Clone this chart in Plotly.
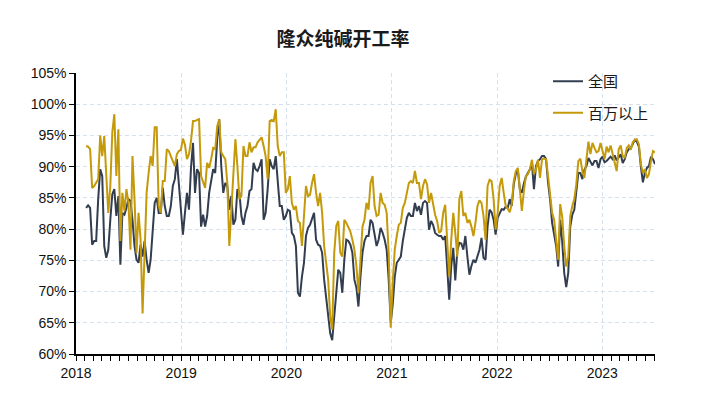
import pandas as pd
import plotly.graph_objects as go

title_text = "隆众纯碱开工率"
series_names = ["全国", "百万以上"]
start_date = "2018-02-05"

quanguo = [
    83.4, 83.8, 83.4, 77.5, 78.1, 78.1, 84.8, 89.6, 88.5, 77.3,
    75.4, 76.7, 81.5, 85.6, 86.4, 82.1, 85.3, 74.3, 82.6, 82.3,
    83.4, 84.8, 84.5, 81.5, 77.3, 75.1, 74.6, 77.5, 75.6, 78.1,
    75.1, 73.0, 75.1, 79.9, 84.2, 85.0, 82.6, 82.6, 86.6, 83.7,
    82.1, 82.1, 83.7, 86.9, 88.0, 91.2, 87.4, 82.6, 79.1, 82.6,
    85.8, 83.1, 89.8,
    93.8, 85.8, 89.6, 89.0, 80.4, 82.3, 80.4, 82.1, 85.8, 87.7,
    89.6, 89.0, 94.4, 97.6, 90.1, 85.8, 87.4, 86.9, 83.1, 85.3,
    80.7, 81.5, 86.4, 85.8, 82.1, 80.7, 82.6, 83.7, 86.1, 86.4,
    90.6, 89.6, 89.3, 90.1, 91.2, 81.5, 82.6, 86.4, 91.2, 90.1,
    89.6, 91.7, 88.0, 83.7,
    83.7, 81.5, 82.1, 83.1, 82.9, 79.4, 78.9, 77.3, 69.8, 69.2,
    72.4, 74.6, 78.9, 80.2, 80.7, 81.8, 82.6, 78.3, 77.5, 77.3,
    76.2, 71.9, 69.2, 66.0, 63.3, 62.2, 66.0, 70.8, 73.5, 73.0,
    69.8, 75.1, 78.3, 78.1, 77.5, 76.2, 71.9, 70.6, 67.6, 72.4,
    76.2, 78.1, 78.9, 78.9, 81.5, 81.0, 79.4, 77.3, 78.3, 80.2,
    79.4, 78.3, 76.7, 71.9, 65.0, 68.0, 72.4, 74.6, 75.1,
    75.6, 78.1, 80.2, 81.8, 82.6, 82.1, 82.1, 84.2, 82.9, 83.7,
    82.3, 84.2, 84.5, 84.2, 79.9, 81.3, 80.7, 79.4, 79.1, 78.9,
    78.9, 78.3, 78.9, 74.1, 68.7, 74.1, 77.0, 71.8, 76.5, 77.8,
    77.7, 76.7, 78.9, 75.6, 72.7, 74.1, 75.1, 74.6, 75.9, 76.7,
    78.6, 75.4, 75.1, 80.4, 83.1, 82.7, 81.5, 79.1, 81.8, 82.5,
    83.2, 83.1,
    83.6, 83.4, 84.8, 83.7, 87.2, 88.8, 89.5, 86.4, 85.8, 87.3,
    88.4, 89.0, 89.6, 90.5, 86.4, 90.1, 90.9, 91.2, 91.7, 91.7,
    91.2, 87.4, 84.8, 81.0, 79.4, 77.3, 74.0, 81.5, 78.0, 73.0,
    70.7, 73.0, 80.4, 82.3, 83.1, 85.8, 89.0, 89.0, 88.0, 89.5,
    90.1, 91.4, 90.7, 90.2, 90.9, 90.9, 89.8, 91.2, 91.6, 90.7,
    90.9, 91.2,
    91.6, 91.2, 91.8, 91.0, 91.6, 92.0, 90.6, 91.2, 92.3, 92.8,
    93.0, 93.8, 94.3, 94.0, 93.2, 90.0, 87.5, 89.0, 89.8, 90.1,
    91.6, 91.2, 90.4,
]

baiwan = [
    93.3, 93.2, 92.8, 86.6, 86.9, 87.4, 88.0, 95.0, 91.7, 94.9,
    89.6, 82.6, 86.9, 95.5, 98.4, 88.5, 96.0, 78.1, 85.8, 82.9,
    86.4, 84.2, 76.7, 91.7, 84.8, 76.2, 82.6, 78.4, 66.5, 77.3,
    85.8, 89.0, 91.7, 90.1, 96.3, 96.3, 83.7, 82.6, 87.7, 87.7,
    92.8, 92.5, 91.7, 91.2, 90.1, 92.0, 92.5, 92.7, 94.5, 93.5,
    91.2, 92.0, 94.1,
    97.3, 97.3, 97.5, 97.6, 88.5, 87.7, 86.6, 90.6, 89.8, 91.2,
    93.0, 92.8, 96.5, 97.6, 92.3, 91.7, 91.2, 87.4, 77.3, 83.1,
    89.0, 94.4, 90.1, 84.8, 85.3, 93.3, 91.7, 91.7, 93.9, 92.3,
    93.1, 93.1, 93.9, 94.4, 94.7, 93.3, 91.7, 88.0, 97.3, 97.5,
    97.3, 99.2, 93.3, 91.7,
    92.3, 92.3, 85.8, 86.4, 88.5, 84.2, 83.1, 83.7, 81.3, 81.0,
    77.3, 82.1, 86.9, 85.3, 85.5, 87.4, 88.8, 85.8, 83.7, 85.8,
    82.6, 77.3, 74.6, 71.9, 66.0, 63.9, 76.2, 80.5, 81.3, 76.2,
    75.6, 81.5, 81.0, 80.2, 79.6, 78.3, 76.7, 74.1, 69.8, 75.1,
    80.4, 81.5, 84.2, 83.1, 87.4, 88.5, 83.7, 82.1, 82.3, 85.8,
    84.2, 83.9, 82.6, 76.2, 64.2, 71.5, 76.7, 78.9, 80.7,
    81.0, 83.4, 84.2, 85.8, 87.4, 87.7, 87.4, 89.3, 87.4, 87.4,
    84.8, 86.9, 88.0, 87.2, 84.2, 85.8, 83.7, 82.3, 81.3, 79.4,
    79.7, 82.6, 83.9, 77.3, 72.4, 78.3, 82.6, 79.4, 75.6, 84.8,
    86.1, 82.1, 82.6, 81.0, 81.5, 80.4, 78.9, 81.0, 83.7, 84.6,
    84.2, 82.1, 78.3, 86.9, 87.9, 87.7, 84.8, 79.9, 82.6, 86.9,
    88.2, 85.8,
    83.7, 83.3, 82.7, 84.0, 87.7, 89.3, 89.8, 86.4, 82.9, 86.1,
    88.5, 88.8, 89.6, 91.1, 88.8, 89.6, 91.1, 88.2, 91.2, 91.3,
    91.2, 88.5, 85.8, 82.6, 81.5, 78.3, 75.1, 84.0, 82.0, 77.3,
    74.0, 75.6, 82.1, 83.7, 84.8, 87.2, 90.9, 91.3, 89.3, 88.2,
    91.7, 94.0, 92.0, 93.8, 93.0, 92.3, 92.5, 93.8, 92.5, 91.2,
    93.2, 92.3,
    93.4, 92.0, 90.4, 89.3, 92.8, 93.4, 91.7, 91.4, 93.0, 93.4,
    92.7, 93.9, 94.3, 94.4, 93.6, 90.4, 89.0, 89.6, 88.2, 88.8,
    90.9, 92.5, 92.3,
]

dates = pd.date_range(start_date, periods=len(quanguo), freq="7D")

dark = "#323E4F"
gold = "#C49A0A"
grid = "#D5E1EF"

W, H = 697, 390  # page body adds an 8px offset

fig = go.Figure()
fig.add_trace(go.Scatter(x=dates, y=quanguo, mode="lines", name=series_names[0],
                         legendgroup="a", line=dict(color=dark, width=2)))
fig.add_trace(go.Scatter(x=dates, y=baiwan, mode="lines", name=series_names[1],
                         legendgroup="b", line=dict(color=gold, width=2)))

fig.update_layout(
    width=W, height=H,
    margin=dict(l=68, r=50, t=65, b=44, autoexpand=False),
    paper_bgcolor="white", plot_bgcolor="white",
    title=dict(text="<b>" + title_text + "</b>", x=335 / W, xref="container",
               y=1 - 31 / H, yref="container", xanchor="center", yanchor="middle",
               font=dict(family="Noto Sans CJK SC", size=19, color="#1a1a1a")),
    legend=dict(x=540 / W, y=1 - 57 / H, xref="container", yref="container",
                xanchor="left", yanchor="top", bgcolor="rgba(0,0,0,0)",
                font=dict(family="Noto Sans CJK SC", size=15, color="#1a1a1a"),
                tracegroupgap=9, traceorder="grouped"),
    font=dict(family="Liberation Sans", size=14, color="#111111"),
)

fig.update_xaxes(
    type="date", range=["2018-01-01", dates[-1]],
    tick0="2018-01-01", dtick="M12", tickformat="%Y",
    ticks="outside", ticklen=5, tickcolor="black", tickwidth=1,
    showline=True, linecolor="black", linewidth=1.5,
    showgrid=True, gridcolor=grid, griddash="4px,3px", gridwidth=1,
    minor=dict(dtick="M1", ticks="outside", ticklen=5, tickcolor="black", showgrid=False),
    tickfont=dict(family="Liberation Sans", size=14, color="#111111"),
    zeroline=False,
)
fig.update_yaxes(
    range=[60, 105], dtick=5, tick0=60, ticksuffix="%",
    ticks="outside", ticklen=5, tickcolor="black",
    showline=True, linecolor="black", linewidth=1.5,
    showgrid=True, gridcolor=grid, griddash="4px,3px", gridwidth=1,
    tickfont=dict(family="Liberation Sans", size=14, color="#111111"),
    zeroline=False,
)

fig.write_html("out.html")
